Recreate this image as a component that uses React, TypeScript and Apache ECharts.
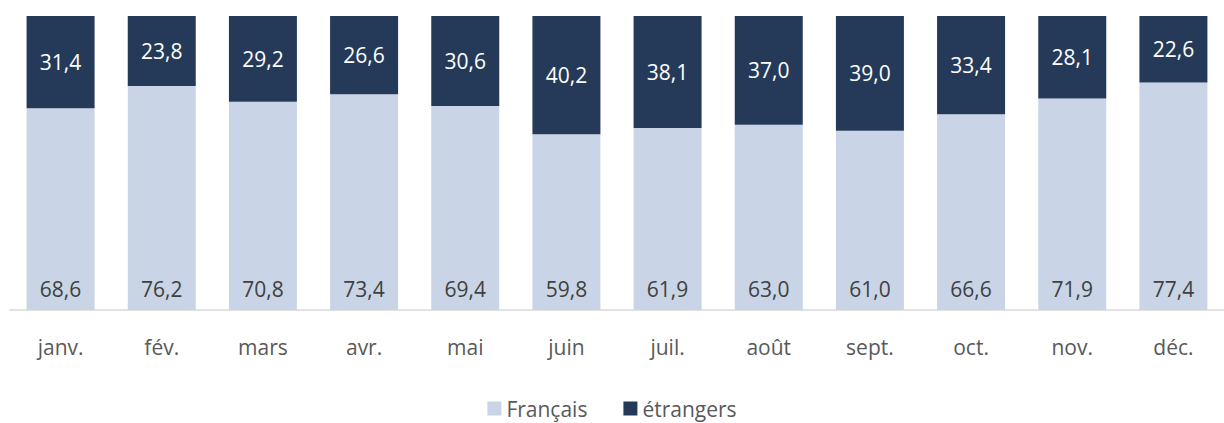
import React, { useEffect, useRef } from "react";
import * as echarts from "echarts";

const months = ["janv.", "fév.", "mars", "avr.", "mai", "juin", "juil.", "août", "sept.", "oct.", "nov.", "déc."];
const francais = [68.6, 76.2, 70.8, 73.4, 69.4, 59.8, 61.9, 63.0, 61.0, 66.6, 71.9, 77.4];
const etrangers = [31.4, 23.8, 29.2, 26.6, 30.6, 40.2, 38.1, 37.0, 39.0, 33.4, 28.1, 22.6];

const FONT = "'Open Sans', 'Noto Sans', sans-serif";
const fmt = (v: number) => v.toFixed(1).replace(".", ",");

export default function App() {
  const ref = useRef<HTMLDivElement>(null);
  useEffect(() => {
    if (!ref.current) return;
    const chart = echarts.init(ref.current, undefined, { renderer: "svg" });
    chart.setOption({
      animation: false,
      grid: { left: 10, top: 16, width: 1226, bottom: 113, containLabel: false },
      legend: {
        bottom: -1,
        left: "center",
        itemWidth: 14,
        itemHeight: 14,
        itemGap: 36,
        icon: "rect",
        textStyle: { fontFamily: FONT, fontSize: 21, color: "#595959" },
        data: ["Français", "étrangers"],
      },
      xAxis: {
        type: "category",
        data: months,
        axisLine: { lineStyle: { color: "#d9d9d9", width: 1.5 } },
        axisTick: { show: false },
        axisLabel: { fontFamily: FONT, fontSize: 21, color: "#595959", margin: 26 },
      },
      yAxis: { type: "value", min: 0, max: 100, show: false, splitLine: { show: false } },
      series: [
        {
          name: "Français",
          type: "bar",
          stack: "a",
          data: francais,
          barWidth: 68,
          itemStyle: { color: "#c9d5e6" },
          label: {
            show: true,
            position: "insideBottom",
            distance: 11,
            fontFamily: FONT,
            fontSize: 21,
            color: "#404040",
            formatter: (p: any) => fmt(p.value),
          },
        },
        {
          name: "étrangers",
          type: "bar",
          stack: "a",
          data: etrangers,
          barWidth: 68,
          itemStyle: { color: "#243a58" },
          label: {
            show: true,
            position: "inside",
            fontFamily: FONT,
            fontSize: 21,
            color: "#ffffff",
            formatter: (p: any) => fmt(p.value),
          },
        },
      ],
    });
    return () => chart.dispose();
  }, []);
  return <div ref={ref} style={{ width: 1224, height: 423, position: "absolute", left: 0, top: 0 }} />;
}
